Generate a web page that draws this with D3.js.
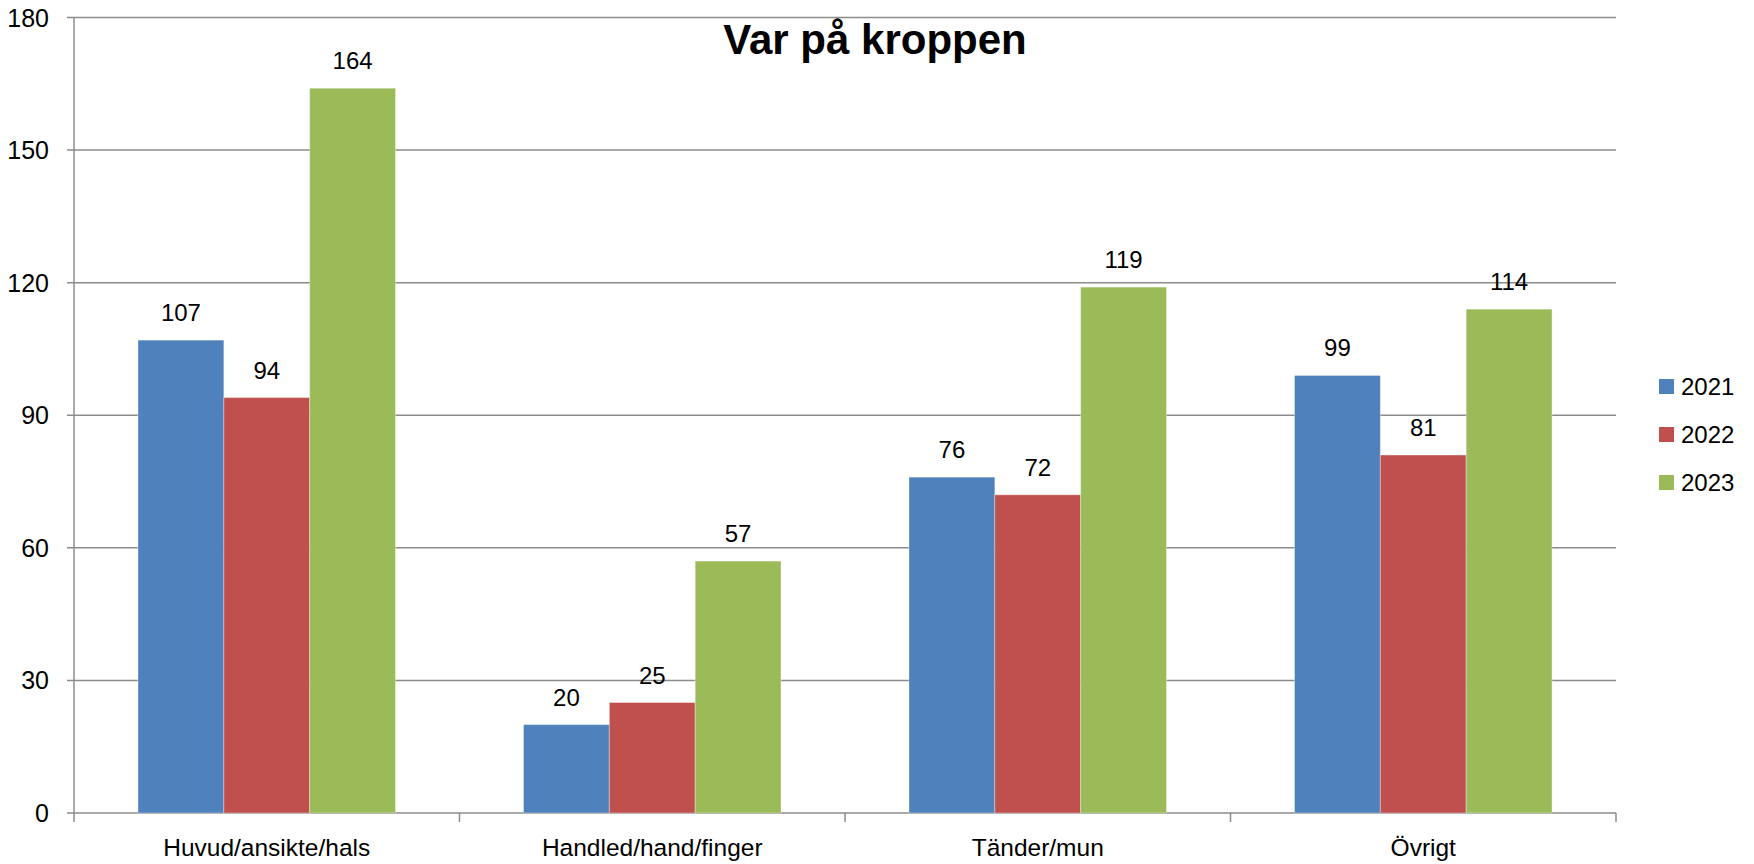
<!DOCTYPE html>
<html>
<head>
<meta charset="utf-8">
<style>
  body { margin: 0; background: #fff; }
  svg { display: block; font-family: "Liberation Sans", Arial, sans-serif; }
</style>
</head>
<body>
<script src="https://d3js.org/d3.v7.min.js"></script>
<script>

var categories = ["Huvud/ansikte/hals", "Handled/hand/finger", "Tänder/mun", "Övrigt"];
var years = ["2021", "2022", "2023"];
var v2021 = [107, 20, 76, 99];
var v2022 = [94, 25, 72, 81];
var v2023 = [164, 57, 119, 114];
var yTicks = [0, 30, 60, 90, 120, 150, 180];

var colors = ["#4f81bd", "#c0504d", "#9bbb59"];
var series = [v2021, v2022, v2023];

var width = 1754, height = 864;
var margin = {top: 17.5, right: 138, bottom: 51, left: 74};
var w = width - margin.left - margin.right,
    h = height - margin.top - margin.bottom;

var svg = d3.select("body").append("svg")
    .attr("width", width)
    .attr("height", height);

var g = svg.append("g")
    .attr("transform", "translate(" + margin.left + "," + margin.top + ")");

var x0 = d3.scaleBand().domain(categories).range([0, w]).paddingInner(0).paddingOuter(0);
var x1 = d3.scaleBand().domain(years).range([64, x0.bandwidth() - 64]);
var y = d3.scaleLinear().domain([0, 180]).range([h, 0]);

// gridlines
g.selectAll(".grid")
  .data(yTicks)
  .enter().append("line")
  .attr("x1", -7).attr("x2", w)
  .attr("y1", function(d) { return y(d); })
  .attr("y2", function(d) { return y(d); })
  .attr("stroke", "#8c8c8c")
  .attr("stroke-width", 1.5);

// y labels
g.selectAll(".ylab")
  .data(yTicks)
  .enter().append("text")
  .attr("x", -25)
  .attr("y", function(d) { return y(d); })
  .attr("dy", "0.36em")
  .attr("text-anchor", "end")
  .attr("font-size", 25)
  .text(function(d) { return d; });

// bars
var groups = g.selectAll(".cat")
  .data(categories)
  .enter().append("g")
  .attr("transform", function(d) { return "translate(" + x0(d) + ",0)"; });

groups.selectAll("rect")
  .data(function(d, i) { return years.map(function(yr, j) { return {yr: yr, v: series[j][i], c: colors[j]}; }); })
  .enter().append("rect")
  .attr("x", function(d) { return x1(d.yr); })
  .attr("y", function(d) { return y(d.v); })
  .attr("width", x1.bandwidth())
  .attr("height", function(d) { return h - y(d.v); })
  .attr("fill", function(d) { return d.c; })
  .attr("stroke", "rgba(255,255,255,0.35)")
  .attr("stroke-width", 1);

groups.selectAll(".val")
  .data(function(d, i) { return years.map(function(yr, j) { return {yr: yr, v: series[j][i]}; }); })
  .enter().append("text")
  .attr("x", function(d) { return x1(d.yr) + x1.bandwidth() / 2; })
  .attr("y", function(d) { return y(d.v) - 19; })
  .attr("text-anchor", "middle")
  .attr("font-size", 24)
  .text(function(d) { return d.v; });

// axes lines
g.append("line")
  .attr("x1", 0).attr("x2", 0).attr("y1", 0).attr("y2", h)
  .attr("stroke", "#8c8c8c").attr("stroke-width", 1.5);

var xt = [0].concat(categories.map(function(d) { return x0(d) + x0.bandwidth(); }));
g.selectAll(".xtick")
  .data(xt)
  .enter().append("line")
  .attr("x1", function(d) { return d; })
  .attr("x2", function(d) { return d; })
  .attr("y1", h).attr("y2", h + 9)
  .attr("stroke", "#8c8c8c").attr("stroke-width", 1.5);

g.selectAll(".xlab")
  .data(categories)
  .enter().append("text")
  .attr("x", function(d) { return x0(d) + x0.bandwidth() / 2; })
  .attr("y", h + 43)
  .attr("text-anchor", "middle")
  .attr("font-size", 24.5)
  .text(function(d) { return d; });

// title
svg.append("text")
  .attr("x", 875)
  .attr("y", 54)
  .attr("text-anchor", "middle")
  .attr("font-size", 42)
  .attr("font-weight", "bold")
  .text("Var på kroppen");

// legend
var legend = svg.append("g").attr("transform", "translate(1659,379)");
var li = legend.selectAll("g")
  .data(years)
  .enter().append("g")
  .attr("transform", function(d, i) { return "translate(0," + (i * 48) + ")"; });
li.append("rect")
  .attr("width", 15).attr("height", 15)
  .attr("fill", function(d, i) { return colors[i]; });
li.append("text")
  .attr("x", 22).attr("y", 16)
  .attr("font-size", 24)
  .text(function(d) { return d; });

</script>
</body>
</html>
